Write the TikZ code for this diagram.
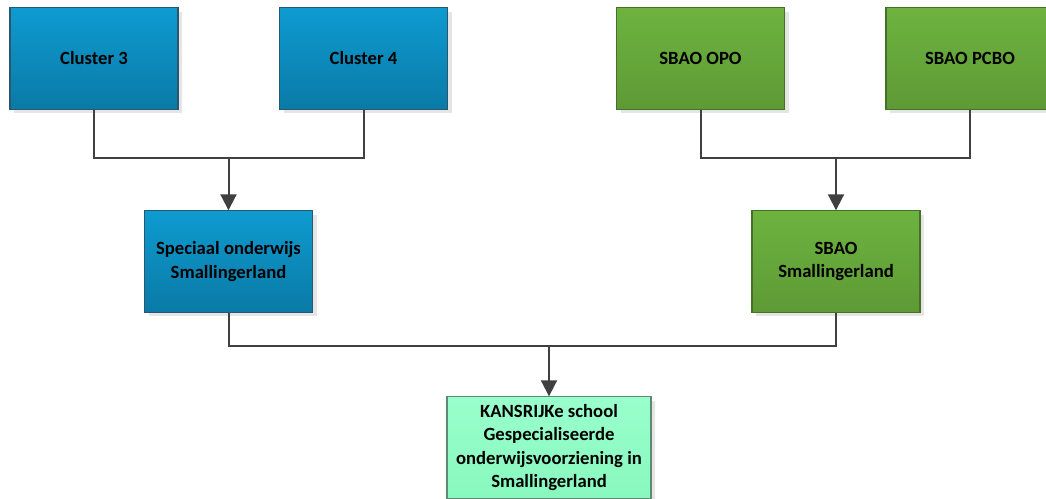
\documentclass[tikz,border=0pt]{standalone}
\usepackage{fontspec}
\setmainfont{Carlito}
\usetikzlibrary{arrows.meta,shadows}
\definecolor{blueTop}{HTML}{0E9BD0}
\definecolor{blueBot}{HTML}{0A7AA6}
\definecolor{blueLine}{HTML}{2A5670}
\definecolor{greenTop}{HTML}{6DB33F}
\definecolor{greenBot}{HTML}{5E9A35}
\definecolor{greenLine}{HTML}{46702A}
\definecolor{mintTop}{HTML}{99FFCC}
\definecolor{mintBot}{HTML}{88F8BE}
\definecolor{mintLine}{HTML}{5E8A72}
\definecolor{wire}{HTML}{404040}
\tikzset{
  box/.style={rectangle, minimum width=126pt, minimum height=76pt, inner sep=2pt,
    align=center, font=\bfseries\fontsize{14}{17.5}\selectfont, line width=0.8pt,
    drop shadow={shadow xshift=3pt, shadow yshift=-3pt, fill=black!10, opacity=1}},
  bluebox/.style={box, draw=blueLine, top color=blueTop, bottom color=blueBot},
  greenbox/.style={box, draw=greenLine, top color=greenTop, bottom color=greenBot},
  mintbox/.style={box, minimum width=153pt, draw=mintLine, top color=mintTop, bottom color=mintBot},
  wire/.style={draw=wire, line width=1.5pt},
  link/.style={wire, -{Triangle[width=12pt,length=12pt]}}
}
\begin{document}
\begin{tikzpicture}[x=0.75pt,y=-0.75pt]
\useasboundingbox (0,0) rectangle (1046,499);
\clip (0,0) rectangle (1046,499);
% top row
\node[bluebox] (C3) at (94,58.5) {Cluster 3};
\node[bluebox] (C4) at (363.5,58.5) {Cluster 4};
\node[greenbox] (OPO) at (700.5,58.5) {SBAO OPO};
\node[greenbox] (PCBO) at (970,58.5) {SBAO PCBO};
% middle row
\node[bluebox] (SO) at (228.5,261.5) {Speciaal onderwijs\\Smallingerland};
\node[greenbox] (SB) at (836,261.5) {SBAO\\Smallingerland};
% bottom
\node[mintbox] (KS) at (549,447.5) {KANSRIJKe school\\Gespecialiseerde\\onderwijsvoorziening in\\Smallingerland};
% junctions
\coordinate (jl) at (228.5,158);
\coordinate (jr) at (836,158);
\coordinate (jb) at (549,346);
\draw[wire] (C3) |- (jl) -| (C4);
\draw[wire] (OPO) |- (jr) -| (PCBO);
\draw[wire] (SO) |- (jb) -| (SB);
\draw[link] (jl) -- (SO);
\draw[link] (jr) -- (SB);
\draw[link] (jb) -- (KS);
\end{tikzpicture}
\end{document}
